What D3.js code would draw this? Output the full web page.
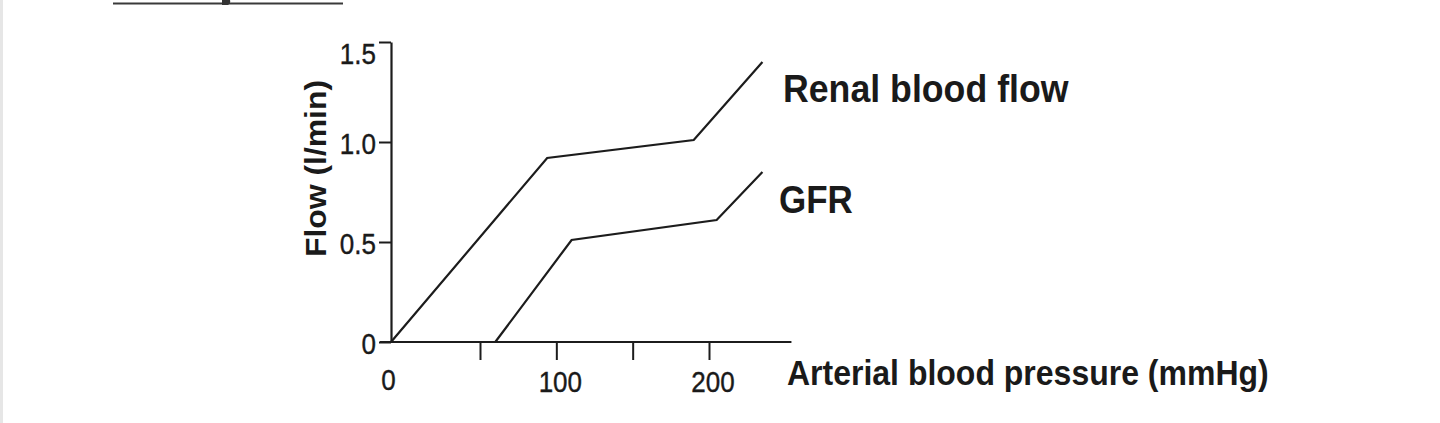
<!DOCTYPE html>
<html>
<head>
<meta charset="utf-8">
<script src="https://cdn.jsdelivr.net/npm/d3@7"></script>
<style>
  html, body { margin: 0; padding: 0; background: #fff; }
  svg { display: block; }
  text { font-family: "Liberation Sans", Arial, Helvetica, sans-serif; fill: #1a1a1a; }
</style>
</head>
<body>
<svg id="chart" width="1440" height="423"></svg>
<script>
// ---- data ----
const rbfPressure = [0, 94, 190, 235];
const rbfFlow     = [0, 0.92, 1.01, 1.40];
const gfrPressure = [60, 110, 205, 235];
const gfrFlow     = [0, 0.51, 0.61, 0.85];
const xTickValues = [0, 50, 100, 150, 200];
const xTickLabels = ["0", "", "100", "", "200"];
const yTickValues = [0, 0.5, 1.0, 1.5];
const yTickLabels = ["0", "0.5", "1.0", "1.5"];
const seriesNames = ["Renal blood flow", "GFR"];
const xTitle = "Arterial blood pressure (mmHg)";
const yTitle = "Flow (l/min)";

const svg = d3.select("#chart");
const ink = "#1c1c1c";
const stretch = 1.1;

// left page edge strip
svg.append("rect").attr("x", 0).attr("y", 0).attr("width", 3).attr("height", 423).attr("fill", "#e6e6e6");
// cropped fragment at top (underline and the tail of a cut-off glyph)
svg.append("line").attr("x1", 113).attr("x2", 343).attr("y1", 3.5).attr("y2", 3.5)
  .attr("stroke", "#3a3a3a").attr("stroke-width", 2.2);
svg.append("path").attr("d", "M222,0 L222,5 L228,5 Q231,3 230,0 Z").attr("fill", "#333");

// scales (hand-drawn axis: origin offset from the evenly spaced ticks)
const x = d3.scaleLinear().domain([0, 50, 200]).range([391, 480, 709]);
const y = d3.scaleLinear().domain([0, 1.5]).range([342, 42]);

// y axis
const yAxis = svg.append("g").attr("transform", `translate(${x(0)},0)`)
  .call(d3.axisLeft(y).tickValues(yTickValues).tickSize(12).tickSizeOuter(0)
    .tickFormat((d, i) => yTickLabels[i]));
yAxis.select(".domain").attr("stroke", ink).attr("stroke-width", 2.2);
yAxis.selectAll(".tick line").attr("stroke", ink).attr("stroke-width", 2);
yAxis.selectAll(".tick text")
  .attr("x", null).attr("y", null).attr("dy", null)
  .attr("font-size", 26).attr("font-family", null).attr("fill", "#1a1a1a")
  .attr("stroke", "#1a1a1a").attr("stroke-width", 0.35)
  .attr("text-anchor", "end")
  .attr("transform", (d) => `translate(-15,${d === 1.5 ? 21 : 11}) scale(1,${stretch})`);

// x axis
const xAxis = svg.append("g").attr("transform", `translate(0,${y(0)})`)
  .call(d3.axisBottom(x).tickValues(xTickValues).tickSize(18).tickSizeOuter(0)
    .tickFormat((d, i) => xTickLabels[i]));
xAxis.select(".domain").remove();
xAxis.selectAll(".tick line").attr("stroke", ink).attr("stroke-width", 2)
  .attr("display", (d) => d === 0 ? "none" : null);
xAxis.selectAll(".tick text")
  .attr("x", null).attr("y", null).attr("dy", null)
  .attr("font-size", 26).attr("font-family", null).attr("fill", "#1a1a1a")
  .attr("stroke", "#1a1a1a").attr("stroke-width", 0.35)
  .attr("text-anchor", "middle")
  .attr("transform", (d) => `translate(${d === 0 ? -3 : 3.5},${d === 0 ? 48 : 50}) scale(1,${stretch})`);
svg.append("line")
  .attr("x1", x(0) - 11).attr("x2", x(254))
  .attr("y1", y(0)).attr("y2", y(0))
  .attr("stroke", ink).attr("stroke-width", 2.2);

// lines
const line = d3.line().x(d => x(d[0])).y(d => y(d[1]));
const rbf = rbfPressure.map((p, i) => [p, rbfFlow[i]]);
const gfr = gfrPressure.map((p, i) => [p, gfrFlow[i]]);
[rbf, gfr].forEach(s => {
  svg.append("path").datum(s).attr("d", line)
    .attr("fill", "none").attr("stroke", ink).attr("stroke-width", 2.2)
    .attr("stroke-linejoin", "miter");
});

// series labels
svg.append("text").attr("transform", `translate(783,102) scale(1,${stretch})`)
  .attr("font-size", 35.7).attr("font-weight", "bold").text(seriesNames[0]);
svg.append("text").attr("transform", `translate(779,213) scale(1,${stretch})`)
  .attr("font-size", 35).attr("font-weight", "bold").text(seriesNames[1]);

// axis titles
svg.append("text").attr("transform", `translate(787,385) scale(1,${stretch})`)
  .attr("font-size", 32).attr("font-weight", "bold").text(xTitle);
svg.append("text").attr("transform", `translate(326,168.5) rotate(-90) scale(${stretch},1)`)
  .attr("text-anchor", "middle")
  .attr("font-size", 29).attr("font-weight", "bold").text(yTitle);
</script>
</body>
</html>
